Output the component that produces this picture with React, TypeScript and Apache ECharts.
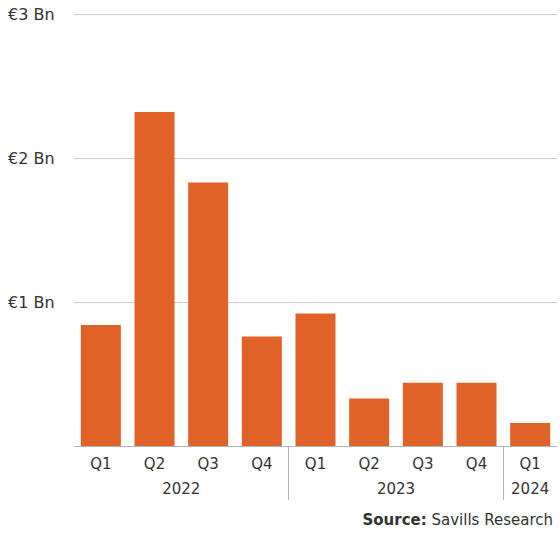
import React, { useEffect, useRef } from "react";
import * as echarts from "echarts";

const quarters = ["Q1", "Q2", "Q3", "Q4", "Q1", "Q2", "Q3", "Q4", "Q1"];
const values = [0.84, 2.32, 1.83, 0.76, 0.92, 0.33, 0.44, 0.44, 0.16];
const years = ["2022", "2023", "2024"];
const yearQuarterCounts = [4, 4, 1];
const yTicks = [0, 1, 2, 3];

const FONT = "DejaVu Sans";
const TEXT = "#333333";
const GRID = "#c9ced4";
const AXIS = "#adb4bc";
const BAR = "#E06228";

export default function App() {
  const ref = useRef<HTMLDivElement>(null);
  useEffect(() => {
    if (!ref.current) return;
    const chart = echarts.init(ref.current, undefined, { renderer: "svg" });

    const n = quarters.length;
    const yearAxis: string[] = new Array(2 * n + 1).fill("");
    const sepIdx: number[] = [];
    let start = 0;
    years.forEach((y, i) => {
      const c = yearQuarterCounts[i];
      yearAxis[start + c] = y;
      start += 2 * c;
      if (i < years.length - 1) sepIdx.push(start);
    });

    chart.setOption({
      animation: false,
      grid: { left: 74, right: -1, top: 14, bottom: 88, containLabel: false },
      title: {
        text: "{b|Source:} Savills Research",
        right: 2,
        bottom: 2,
        textStyle: {
          fontFamily: FONT,
          fontSize: 15,
          fontWeight: "normal",
          color: TEXT,
          rich: {
            b: { fontFamily: FONT, fontSize: 15, fontWeight: "bold", color: TEXT },
          },
        },
      },
      xAxis: [
        {
          type: "category",
          data: quarters,
          axisLine: { show: true, lineStyle: { color: AXIS, width: 1 } },
          axisTick: { show: false },
          axisLabel: {
            interval: 0,
            margin: 10,
            color: TEXT,
            fontFamily: FONT,
            fontSize: 15,
          },
        },
        {
          type: "category",
          position: "bottom",
          boundaryGap: false,
          data: yearAxis,
          axisLine: { show: false },
          axisTick: {
            show: true,
            length: 54,
            interval: (idx: number) => sepIdx.includes(idx),
            lineStyle: { color: AXIS, width: 1 },
          },
          axisLabel: {
            interval: 0,
            margin: 35,
            color: TEXT,
            fontFamily: FONT,
            fontSize: 15,
          },
        },
      ],
      yAxis: {
        type: "value",
        min: yTicks[0],
        max: yTicks[yTicks.length - 1],
        interval: 1,
        axisLine: { show: false },
        axisTick: { show: false },
        splitLine: { lineStyle: { color: GRID, width: 1 } },
        axisLabel: {
          align: "left",
          margin: 66,
          color: TEXT,
          fontFamily: FONT,
          fontSize: 16,
          formatter: (v: number) => (v === 0 ? "" : "€" + v + " Bn"),
        },
      },
      series: [
        {
          type: "bar",
          data: values,
          xAxisIndex: 0,
          barWidth: 40,
          itemStyle: { color: BAR },
        },
      ],
    });
    return () => chart.dispose();
  }, []);
  return <div ref={ref} style={{ width: 560, height: 534, position: "absolute", left: 0, top: 0 }} />;
}
